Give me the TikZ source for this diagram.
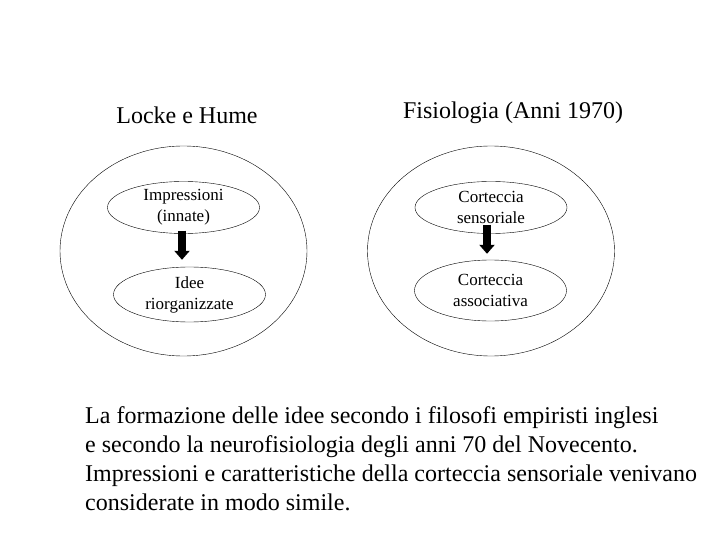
\documentclass[tikz,border=0pt]{standalone}
\usepackage{fontspec}
\setmainfont{Liberation Serif}
\usetikzlibrary{shapes.geometric,arrows.meta,positioning}

\begin{document}
\begin{tikzpicture}[x=1pt,y=-1pt,
  outer/.style={draw,ellipse,inner sep=0pt,minimum width=247pt,minimum height=210pt},
  inner/.style={draw,ellipse,inner sep=0pt,minimum width=152pt,minimum height=52pt,
    align=center,font=\fontsize{17}{21}\selectfont},
  title/.style={font=\fontsize{24}{28}\selectfont},
  bigarrow/.style={line width=8pt,-{Triangle[width=15pt,length=9pt]}}]
  \useasboundingbox (0,0) rectangle (720,540);
  % titles
  \node[title] (lh) at (187,115) {Locke e Hume};
  \node[title] (fis) at (513,113) {Fisiologia (Anni 1970)};
  % big circles
  \node[outer] (left)  at (183.5,251) {};
  \node[outer] (right) at (491,251) {};
  % small ellipses
  \node[inner] (imp)  at (183.5,207.5) {Impressioni\\(innate)};
  \node[inner,minimum height=55pt] (idee) at (189.5,294.5) {Idee\\riorganizzate};
  \node[inner] (sens) at (491,207.5) {Corteccia\\sensoriale};
  \node[inner,minimum height=61pt] (assoc) at (490.5,290.5) {Corteccia\\associativa};
  % arrows
  \draw[bigarrow] ([xshift=-1.5pt,yshift=3pt]imp.south) -- ([xshift=-7.5pt,yshift=7pt]idee.north);
  \draw[bigarrow] ([xshift=-4pt,yshift=9pt]sens.south) -- ([xshift=-3.5pt,yshift=6pt]assoc.north);
  % caption
  \node[anchor=north west,inner sep=0pt,align=left,font=\fontsize{24}{29}\selectfont] (note) at (85,406)
    {La formazione delle idee secondo i filosofi empiristi inglesi\\
     e secondo la neurofisiologia degli anni 70 del Novecento.\\
     Impressioni e caratteristiche della corteccia sensoriale venivano\\
     considerate in modo simile.};
\end{tikzpicture}
\end{document}
